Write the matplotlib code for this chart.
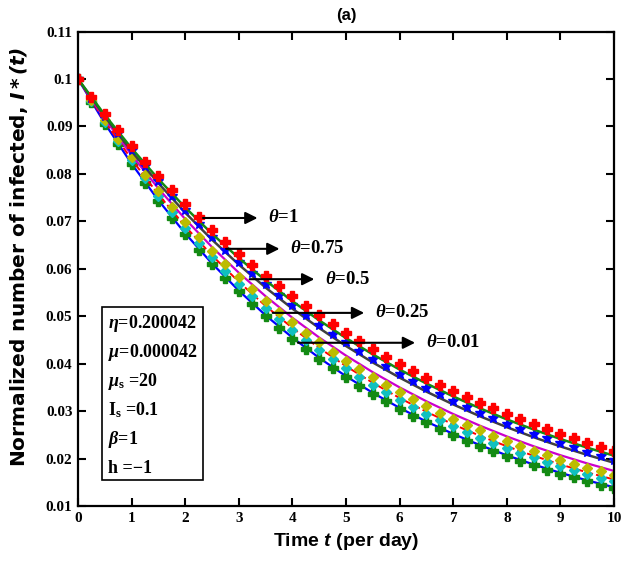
#!/usr/bin/env python3

import numpy as np
import matplotlib
matplotlib.use("Agg")
import matplotlib.pyplot as plt
from matplotlib.patches import Rectangle

plt.rcParams["mathtext.fontset"] = "custom"
plt.rcParams["mathtext.rm"] = "Liberation Serif:bold"
plt.rcParams["mathtext.bf"] = "Liberation Serif:bold"
plt.rcParams["mathtext.it"] = "Liberation Serif:italic:bold"
plt.rcParams["mathtext.sf"] = "Liberation Sans:italic:bold"
plt.rcParams["mathtext.tt"] = "DejaVu Sans:italic:bold"

# time grids (markers every 0.25 day, lines every 0.5 day)
t_m = np.linspace(0, 10, 41)
t_l = np.linspace(0, 10, 21)

# marker series
red_m = [0.1000, 0.09625, 0.09264, 0.08916, 0.08581, 0.08259, 0.07949, 0.07651, 0.07364, 0.07088,
         0.06822, 0.06566, 0.06319, 0.06082, 0.05854, 0.05634, 0.05423, 0.05219, 0.05023, 0.04835,
         0.04653, 0.04479, 0.04311, 0.04149, 0.03993, 0.03843, 0.03699, 0.03560, 0.03427, 0.03298,
         0.03174, 0.03055, 0.02941, 0.02830, 0.02724, 0.02622, 0.02523, 0.02429, 0.02338, 0.02250, 0.02165]
blue_m = [0.1000, 0.09603, 0.09222, 0.08856, 0.08504, 0.08167, 0.07843, 0.07532, 0.07233, 0.06946,
          0.06670, 0.06405, 0.06151, 0.05907, 0.05672, 0.05447, 0.05231, 0.05023, 0.04824, 0.04633,
          0.04449, 0.04272, 0.04103, 0.03940, 0.03783, 0.03633, 0.03489, 0.03351, 0.03218, 0.03090,
          0.02967, 0.02849, 0.02736, 0.02628, 0.02523, 0.02423, 0.02327, 0.02235, 0.02146, 0.02061, 0.01979]
yellow_m = [0.1000, 0.09560, 0.09139, 0.08737, 0.08353, 0.07985, 0.07634, 0.07298, 0.06977, 0.06670,
            0.06376, 0.06096, 0.05828, 0.05571, 0.05326, 0.05092, 0.04868, 0.04653, 0.04449, 0.04253,
            0.04066, 0.03887, 0.03716, 0.03552, 0.03396, 0.03247, 0.03104, 0.02967, 0.02837, 0.02712,
            0.02592, 0.02478, 0.02369, 0.02265, 0.02165, 0.02070, 0.01979, 0.01892, 0.01809, 0.01729, 0.01653]
cyan_m = [0.1000, 0.09541, 0.09103, 0.08685, 0.08286, 0.07906, 0.07543, 0.07197, 0.06866, 0.06551,
          0.06250, 0.05963, 0.05689, 0.05428, 0.05179, 0.04941, 0.04714, 0.04498, 0.04291, 0.04094,
          0.03906, 0.03727, 0.03556, 0.03393, 0.03237, 0.03088, 0.02946, 0.02811, 0.02682, 0.02559,
          0.02441, 0.02329, 0.02222, 0.02120, 0.02023, 0.01930, 0.01842, 0.01757, 0.01676, 0.01599, 0.01526]
green_m = [0.1000, 0.09517, 0.09057, 0.08620, 0.08204, 0.07808, 0.07430, 0.07072, 0.06730, 0.06405,
           0.06096, 0.05801, 0.05521, 0.05255, 0.05001, 0.04759, 0.04529, 0.04311, 0.04103, 0.03904,
           0.03716, 0.03536, 0.03366, 0.03203, 0.03048, 0.02901, 0.02761, 0.02628, 0.02501, 0.02380,
           0.02265, 0.02156, 0.02052, 0.01952, 0.01858, 0.01768, 0.01683, 0.01602, 0.01524, 0.01451, 0.01381]

# line series
green_l = [0.1000, 0.09240, 0.08539, 0.07890, 0.07291, 0.06737, 0.06225, 0.05752, 0.05315, 0.04912,
           0.04538, 0.04194, 0.03875, 0.03581, 0.03309, 0.03058, 0.02825, 0.02611, 0.02412, 0.02229, 0.02060]
gray_l = [0.1000, 0.09206, 0.08475, 0.07802, 0.07182, 0.06612, 0.06087, 0.05603, 0.05158, 0.04749,
          0.04371, 0.04024, 0.03705, 0.03410, 0.03140, 0.02890, 0.02661, 0.02449, 0.02255, 0.02076, 0.01911]
magenta_l = [0.1000, 0.09162, 0.08395, 0.07691, 0.07047, 0.06457, 0.05916, 0.05420, 0.04966, 0.04550,
             0.04169, 0.03819, 0.03499, 0.03206, 0.02938, 0.02692, 0.02466, 0.02259, 0.02070, 0.01897, 0.01738]
reddash_l = [0.1000, 0.09112, 0.08303, 0.07565, 0.06894, 0.06281, 0.05724, 0.05215, 0.04752, 0.04330,
             0.03946, 0.03595, 0.03276, 0.02985, 0.02720, 0.02478, 0.02258, 0.02058, 0.01875, 0.01708, 0.01557]
blue_l = [0.1000, 0.09062, 0.08212, 0.07442, 0.06744, 0.06111, 0.05538, 0.05018, 0.04548, 0.04121,
          0.03734, 0.03384, 0.03067, 0.02779, 0.02518, 0.02282, 0.02068, 0.01874, 0.01698, 0.01539, 0.01395]

theta_labels = ["1", "0.75", "0.5", "0.25", "0.01"]
params = [r"$\eta$=0.200042", r"$\mu$=0.000042", r"$\mu_{\rm s}$ =20",
          r"I$_{\rm s}$ =0.1", r"$\beta$=1", "h =\u22121"]

fig = plt.figure(figsize=(6.37, 5.70), dpi=100)
ax = fig.add_axes([0.1225, 0.1123, 0.8415, 0.8324])

ax.plot(t_l, blue_l, color="#0000ff", lw=1.6)
ax.plot(t_m, green_m, ls="none", marker="P", ms=6.5, color="#138a13")
ax.plot(t_l, reddash_l, color="#ff0000", lw=1.4, ls="--")
ax.plot(t_m, cyan_m, ls="none", marker="D", ms=5, color="#10c0c0")
ax.plot(t_l, magenta_l, color="#cc00cc", lw=1.6)
ax.plot(t_m, yellow_m, ls="none", marker="D", ms=5, color="#bcbc00")
ax.plot(t_l, gray_l, color="#404040", lw=1.8)
ax.plot(t_m, blue_m, ls="none", marker="*", ms=8, color="#0000ff")
ax.plot(t_l, green_l, color="#138a13", lw=1.8)
ax.plot(t_m, red_m, ls="none", marker="P", ms=6.5, color="#ff0000")

ax.set_xlim(0, 10)
ax.set_ylim(0.01, 0.11)
ax.set_xticks(np.arange(0, 11, 1))
ax.set_yticks(np.arange(0.01, 0.111, 0.01))
ax.set_yticklabels(["0.01", "0.02", "0.03", "0.04", "0.05", "0.06", "0.07", "0.08", "0.09", "0.1", "0.11"])
ax.tick_params(direction="in", top=True, right=True, length=6, width=1.5, pad=4)
for lab in ax.get_xticklabels() + ax.get_yticklabels():
    lab.set_fontfamily("Liberation Serif")
    lab.set_fontweight("bold")
    lab.set_fontsize(11)
for s in ax.spines.values():
    s.set_linewidth(1.6)

ax.set_xlabel(r"Time $\mathsf{t}$ (per day)", fontsize=14, fontweight="bold",
              family="Liberation Sans", labelpad=5)
ax.set_ylabel(r"Normalized number of infected, $\mathtt{I*(t)}$", fontsize=14.5, fontweight="bold",
              family="DejaVu Sans", labelpad=5)
ax.yaxis.set_label_coords(-0.09, 0.525)
ax.set_title("(a)", fontsize=12, fontweight="bold", family="Liberation Sans", pad=8)

# arrows with theta labels
arrow_start = [(2.28, 0.0707), (2.71, 0.0642), (3.15, 0.0578), (3.58, 0.0507), (4.05, 0.0444)]
arrow_end = [3.40, 3.81, 4.46, 5.39, 6.34]
for (x0, y0), x1, lab in zip(arrow_start, arrow_end, theta_labels):
    ax.annotate("", xy=(x1, y0), xytext=(x0, y0),
                arrowprops=dict(arrowstyle="-|>", color="black", lw=1.5, mutation_scale=18))
    ax.text(x1 + 0.15, y0, r"$\theta$=" + lab, fontsize=13.5, family="Liberation Serif",
            fontweight="bold", va="center", ha="left")

# parameter box
ax.add_patch(Rectangle((0.044, 0.055), 0.189, 0.364, transform=ax.transAxes,
                       fill=True, facecolor="white", edgecolor="black", lw=1.2, zorder=5))
for i, p in enumerate(params):
    ax.text(0.055, 0.385 - i * 0.061, p, transform=ax.transAxes, fontsize=13,
            family="Liberation Serif", fontweight="bold", va="center", ha="left", zorder=6)

fig.savefig("out.png", dpi=100)
